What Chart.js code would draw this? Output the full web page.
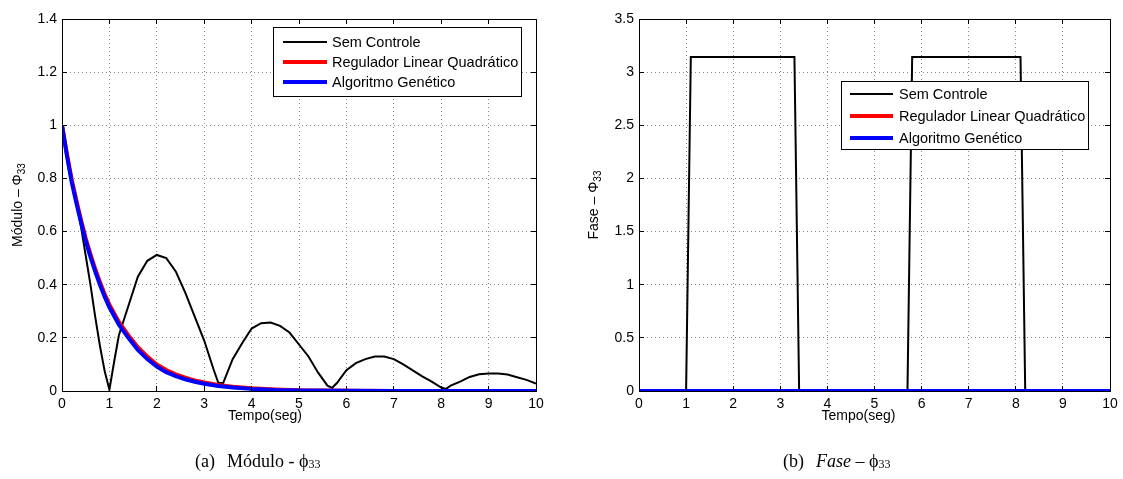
<!DOCTYPE html>
<html>
<head>
<meta charset="utf-8">
<script src="https://cdn.jsdelivr.net/npm/chart.js@4.4.1/dist/chart.umd.min.js"></script>
<style>
body { margin: 0; background: #fff; width: 1123px; height: 479px; position: relative; overflow: hidden; }
canvas { position: absolute; top: 0; }
#modulo { left: 0; }
#fase { left: 560px; }
.caption { position: absolute; top: 452px; line-height: 18px; font-family: "Liberation Serif", "Times New Roman", serif; font-size: 18px; white-space: nowrap; }
.caption .gap { margin-left: 12px; }
.caption sub { font-size: 12px; vertical-align: -1px; line-height: 0; }
</style>
</head>
<body>
<canvas id="modulo" width="560" height="479"></canvas>
<canvas id="fase" width="563" height="479"></canvas>
<div class="caption" style="left:195px">(a)<span class="gap">Módulo - ϕ<sub>33</sub></span></div>
<div class="caption" style="left:783px">(b)<span class="gap"><i>Fase</i> – ϕ<sub>33</sub></span></div>
<script>
// series names
const series = ["Sem Controle", "Regulador Linear Quadrático", "Algoritmo Genético"];

// (a) modulo
const tempoSemControle = [0, 0.1, 0.2, 0.3, 0.4, 0.5, 0.6, 0.7, 0.8, 0.9, 1.0, 1.1, 1.2, 1.4, 1.6, 1.8, 2.0, 2.2, 2.4, 2.6, 2.8, 3.0, 3.2, 3.3, 3.4, 3.6, 3.8, 4.0, 4.2, 4.4, 4.6, 4.8, 5.0, 5.2, 5.4, 5.6, 5.7, 5.8, 6.0, 6.2, 6.4, 6.6, 6.8, 7.0, 7.2, 7.4, 7.6, 7.8, 8.0, 8.1, 8.2, 8.4, 8.6, 8.8, 9.0, 9.2, 9.4, 9.6, 9.8, 10.0];
const moduloSemControle = [1.0, 0.89, 0.79, 0.71, 0.62, 0.51, 0.40, 0.28, 0.17, 0.075, 0.005, 0.11, 0.21, 0.32, 0.43, 0.49, 0.512, 0.50, 0.45, 0.37, 0.28, 0.19, 0.08, 0.03, 0.03, 0.12, 0.18, 0.235, 0.255, 0.258, 0.245, 0.22, 0.175, 0.13, 0.07, 0.02, 0.012, 0.03, 0.078, 0.105, 0.12, 0.13, 0.13, 0.12, 0.10, 0.078, 0.055, 0.035, 0.013, 0.008, 0.02, 0.035, 0.053, 0.063, 0.066, 0.066, 0.062, 0.052, 0.042, 0.028];
const tempoControlado = [0, 0.1, 0.2, 0.3, 0.4, 0.5, 0.6, 0.7, 0.8, 0.9, 1.0, 1.2, 1.4, 1.6, 1.8, 2.0, 2.2, 2.4, 2.6, 2.8, 3.0, 3.3, 3.6, 4.0, 4.5, 5.0, 6.0, 7.0, 10.0];
const moduloLqr = [1.0, 0.895, 0.80, 0.72, 0.645, 0.575, 0.515, 0.46, 0.41, 0.365, 0.325, 0.26, 0.21, 0.165, 0.13, 0.10, 0.079, 0.063, 0.05, 0.04, 0.032, 0.023, 0.016, 0.010, 0.006, 0.003, 0.001, 0, 0];
const moduloAg = [1.0, 0.89, 0.79, 0.71, 0.635, 0.565, 0.505, 0.45, 0.40, 0.355, 0.315, 0.25, 0.20, 0.155, 0.12, 0.092, 0.071, 0.056, 0.044, 0.035, 0.027, 0.019, 0.013, 0.008, 0.004, 0.002, 0.001, 0, 0];

// (b) fase
const tempoFaseSemControle = [0, 1.0, 1.1, 3.3, 3.4, 5.7, 5.8, 8.1, 8.2, 10];
const faseSemControle = [0, 0, 3.1416, 3.1416, 0, 0, 3.1416, 3.1416, 0, 0];
const tempoFaseControlado = [0, 10];
const faseLqr = [0, 0];
const faseAg = [0, 0];

// ticks
const ticksTempo = [0, 1, 2, 3, 4, 5, 6, 7, 8, 9, 10];
const ticksModulo = [0, 0.2, 0.4, 0.6, 0.8, 1, 1.2, 1.4];
const ticksFase = [0, 0.5, 1, 1.5, 2, 2.5, 3, 3.5];

Chart.defaults.font.family = '"Liberation Sans", Arial, sans-serif';
Chart.defaults.font.size = 14;
Chart.defaults.color = "#000";

function pts(ts, vs) {
    return ts.map((t, i) => ({ x: t, y: vs[i] }));
}

function matlabBox(cfg) {
    return {
        id: "matlabBox",
        afterDraw(chart) {
            const ctx = chart.ctx;
            const a = chart.chartArea;
            const x = chart.scales.x, y = chart.scales.y;
            ctx.save();
            ctx.strokeStyle = "#000";
            ctx.lineWidth = 1;
            ctx.setLineDash([]);
            ctx.beginPath();
            x.ticks.forEach(t => {
                const px = Math.round(x.getPixelForValue(t.value) - 0.5) + 0.5;
                ctx.moveTo(px, a.bottom); ctx.lineTo(px, a.bottom - 5);
                ctx.moveTo(px, a.top); ctx.lineTo(px, a.top + 5);
            });
            y.ticks.forEach(t => {
                const py = Math.round(y.getPixelForValue(t.value) - 0.5) + 0.5;
                ctx.moveTo(a.left, py); ctx.lineTo(a.left + 5, py);
                ctx.moveTo(a.right, py); ctx.lineTo(a.right - 5, py);
            });
            ctx.stroke();
            ctx.strokeRect(a.left + 0.5, a.top + 0.5, a.right - a.left, a.bottom - a.top);

            // x title
            ctx.fillStyle = "#000";
            ctx.font = '14px "Liberation Sans", Arial, sans-serif';
            ctx.textAlign = "center";
            ctx.textBaseline = "middle";
            ctx.fillText("Tempo(seg)", (a.left + a.right) / 2 + cfg.xTitleDx, a.bottom + 25);

            // y title with subscript
            ctx.save();
            ctx.translate(cfg.yTitleX, (a.top + a.bottom) / 2);
            ctx.rotate(-Math.PI / 2);
            ctx.textAlign = "left";
            ctx.textBaseline = "alphabetic";
            const mainFont = '14px "Liberation Sans", Arial, sans-serif';
            const subFont = '10px "Liberation Sans", Arial, sans-serif';
            ctx.font = mainFont;
            const w1 = ctx.measureText(cfg.yTitle).width;
            ctx.font = subFont;
            const w2 = ctx.measureText("33").width;
            const x0 = -(w1 + w2) / 2;
            ctx.font = mainFont;
            ctx.fillText(cfg.yTitle, x0, 5);
            ctx.font = subFont;
            ctx.fillText("33", x0 + w1, 8);
            ctx.restore();

            // legend
            const L = cfg.legend;
            const lx = Math.round(a.left + L.dx), ly = Math.round(a.top + L.dy);
            ctx.fillStyle = "#fff";
            ctx.fillRect(lx, ly, L.w, L.h);
            ctx.strokeStyle = "#000";
            ctx.lineWidth = 1;
            ctx.strokeRect(lx + 0.5, ly + 0.5, L.w, L.h);
            ctx.font = '14.5px "Liberation Sans", Arial, sans-serif';
            ctx.textAlign = "left";
            ctx.textBaseline = "middle";
            chart.data.datasets.forEach((ds, i) => {
                const ry = Math.round(ly + L.row0 + i * L.rowGap);
                ctx.strokeStyle = ds.borderColor;
                ctx.lineWidth = ds.borderWidth;
                ctx.beginPath();
                ctx.moveTo(lx + L.line0, ry);
                ctx.lineTo(lx + L.line1, ry);
                ctx.stroke();
                ctx.fillStyle = "#000";
                ctx.fillText(ds.label, lx + L.text, ry + 1);
            });
            ctx.restore();
        }
    };
}

function makeChart(id, datasets, yMax, yTicks, pad, yWidth, cfg) {
    return new Chart(document.getElementById(id), {
        type: "line",
        data: { datasets: datasets },
        options: {
            responsive: false,
            animation: false,
            devicePixelRatio: 1,
            layout: { padding: pad },
            elements: { point: { radius: 0 }, line: { tension: 0 } },
            plugins: { legend: { display: false }, tooltip: { enabled: false } },
            scales: {
                x: {
                    type: "linear",
                    min: 0,
                    max: 10,
                    afterBuildTicks: s => { s.ticks = ticksTempo.map(v => ({ value: v })); },
                    afterFit: s => { s.height = 88; },
                    grid: { color: "#8a8a8a", drawTicks: false },
                    border: { display: false, dash: [1, 3] },
                    ticks: { padding: 5, maxRotation: 0, callback: v => String(v) }
                },
                y: {
                    type: "linear",
                    min: 0,
                    max: yMax,
                    afterBuildTicks: s => { s.ticks = yTicks.map(v => ({ value: v })); },
                    afterFit: s => { s.width = yWidth; },
                    grid: { color: "#8a8a8a", drawTicks: false },
                    border: { display: false, dash: [1, 3] },
                    ticks: { padding: 5, callback: v => String(Math.round(v * 100) / 100) }
                }
            }
        },
        plugins: [matlabBox(cfg)]
    });
}

makeChart("modulo", [
    { label: series[0], data: pts(tempoSemControle, moduloSemControle), borderColor: "#000000", borderWidth: 2, fill: false, order: 3 },
    { label: series[1], data: pts(tempoControlado, moduloLqr), borderColor: "#ff0000", borderWidth: 4, fill: false, order: 2 },
    { label: series[2], data: pts(tempoControlado, moduloAg), borderColor: "#0000ff", borderWidth: 4, fill: false, order: 1 }
], 1.4, ticksModulo, { left: 0, top: 19, right: 24, bottom: 0 }, 62, {
    yTitle: "Módulo – Φ",
    yTitleX: 17,
    xTitleDx: -34,
    legend: { dx: 211, dy: 8, w: 248, h: 69, row0: 14.5, rowGap: 20.2, line0: 10, line1: 54, text: 59 }
});

makeChart("fase", [
    { label: series[0], data: pts(tempoFaseSemControle, faseSemControle), borderColor: "#000000", borderWidth: 2, fill: false, order: 3 },
    { label: series[1], data: pts(tempoFaseControlado, faseLqr), borderColor: "#ff0000", borderWidth: 4, fill: false, order: 2 },
    { label: series[2], data: pts(tempoFaseControlado, faseAg), borderColor: "#0000ff", borderWidth: 4, fill: false, order: 1 }
], 3.5, ticksFase, { left: 0, top: 19, right: 13, bottom: 0 }, 79, {
    yTitle: "Fase – Φ",
    yTitleX: 33,
    xTitleDx: -16,
    legend: { dx: 202, dy: 62, w: 247, h: 68, row0: 12.6, rowGap: 22.3, line0: 9, line1: 52, text: 58 }
});
</script>
</body>
</html>
